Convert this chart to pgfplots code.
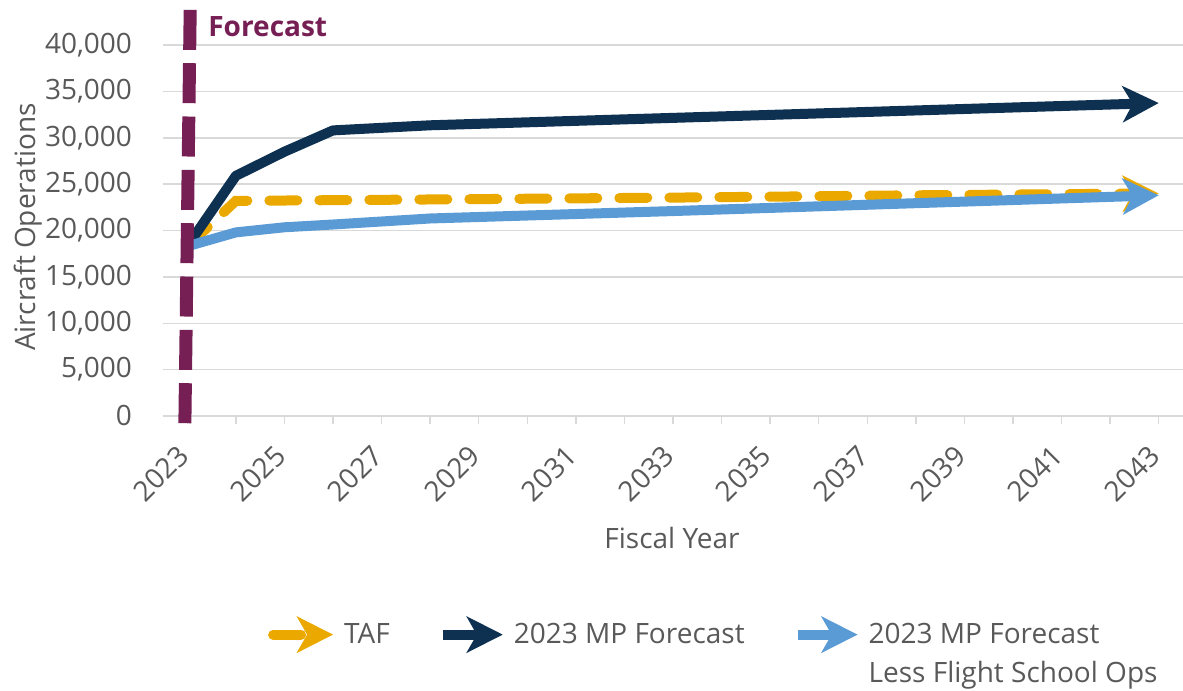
\documentclass[border=0pt]{standalone}
\usepackage{pgfplots}
\pgfplotsset{compat=1.18}
\usepackage{fontspec}
\setmainfont{Open Sans}
\usetikzlibrary{arrows.meta}
\definecolor{navy}{HTML}{0E3152}
\definecolor{gold}{HTML}{EBA900}
\definecolor{lblue}{HTML}{5B9BD5}
\definecolor{fpurple}{HTML}{761F55}
\definecolor{txtgray}{HTML}{595959}
\definecolor{gridgray}{HTML}{D9D9D9}
\newcommand{\chartfont}{\fontsize{14}{19.5}\selectfont}
\begin{document}
\begin{tikzpicture}
\begin{axis}[
  name=ax,
  scale only axis, width=510pt, height=204pt,
  xmin=2022.5, xmax=2043.5, ymin=0, ymax=44000,
  scaled y ticks=false,
  axis x line*=bottom, axis y line*=left,
  y axis line style={draw=none},
  x axis line style={draw=gridgray, line width=0.75pt, -},
  ytick={0,5000,...,40000},
  xtick={2023,2025,...,2043},
  minor xtick={2024,2026,...,2042},
  xtick style={draw=gridgray, line width=0.75pt},
  major tick length=4pt, minor tick length=4pt,
  tick align=outside,
  ytick style={draw=none},
  ymajorgrids, grid style={draw=gridgray, line width=0.75pt},
  /pgf/number format/assume math mode=true,
  tick label style={font=\chartfont, text=txtgray},
  xticklabel style={rotate=45, anchor=east, xshift=-7.4pt, yshift=-8.1pt, /pgf/number format/1000 sep=},
  yticklabel style={/pgf/number format/1000 sep={,}, xshift=-8pt},
  xlabel={Fiscal Year}, ylabel={Aircraft Operations},
  every axis x label/.style={at={(axis description cs:0.499,-0.299)}, anchor=center, font=\chartfont, text=txtgray},
  every axis y label/.style={at={(axis description cs:-0.1324,0.463)}, rotate=90, anchor=center, font=\chartfont, text=txtgray},
  clip=false,
  legend columns=3,
  legend cell align=left,
  legend style={draw=none, fill=none, at={(axis description cs:0.541,-0.481)}, anchor=north,
    font=\chartfont, text=txtgray,
    /tikz/every even column/.append style={column sep=22pt}},
  legend image code/.code={\draw[#1] (0pt,0pt) -- (30pt,0pt); \path[-, draw=none, fill=none] (0pt,0pt) rectangle (33.5pt,0.1pt);},
]
\addplot[gold, line width=5pt, dash pattern=on 14pt off 11pt, line cap=round,
  -{Stealth[length=18pt,width=18pt,inset=5pt]}] coordinates {
  (2023,18300) (2024,23200) (2028,23350) (2033,23550) (2038,23800) (2043,24000)};
\addlegendentry{TAF}
\addplot[navy, line width=5pt, line join=round,
  -{Stealth[length=18pt,width=18pt,inset=5pt]}] coordinates {
  (2023,18300) (2024,25900) (2025,28500) (2026,30800) (2028,31350) (2033,32150) (2038,32950) (2043,33750)};
\addlegendentry{2023 MP Forecast}
\addplot[lblue, line width=5pt, line join=round,
  -{Stealth[length=18pt,width=18pt,inset=5pt]}] coordinates {
  (2023,18300) (2024,19800) (2025,20350) (2026,20650) (2028,21300) (2033,22100) (2038,22950) (2043,23800)};
\addlegendentry{\vtop{\hbox{2023 MP Forecast}\hbox{Less Flight School Ops}}}
\addplot[fpurple, line width=6.5pt, dash pattern=on 20pt off 6.67pt, forget plot]
  coordinates {(2023.06,43800) (2022.95,-970)};
\node[anchor=west, text=fpurple, font=\bfseries\chartfont, xshift=7pt] at (axis cs:2023,41960) {Forecast};
\end{axis}
\pgfresetboundingbox
\path ([shift={(-81.5pt,-137.5pt)}]ax.south west) rectangle ([shift={(0pt,4pt)}]ax.north east);
\end{tikzpicture}
\end{document}
